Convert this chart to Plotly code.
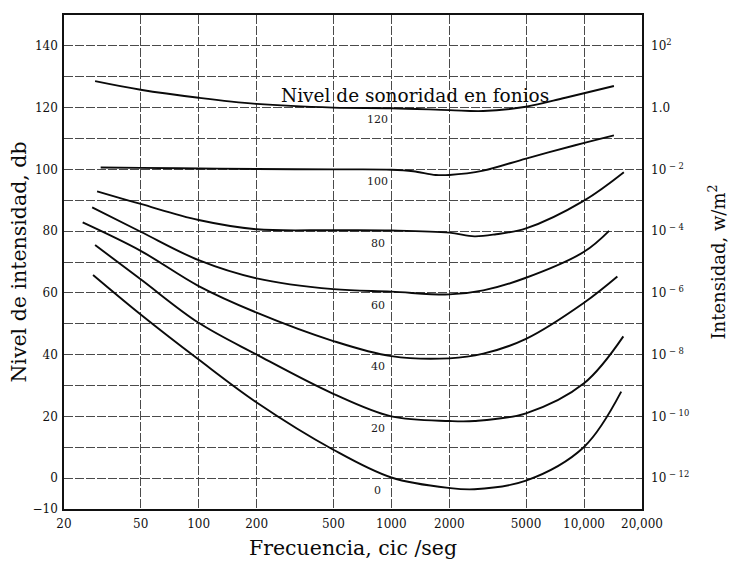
import numpy as np
import plotly.graph_objects as go

# Equal-loudness contours: frequency (Hz) vs intensity level (dB), one pair per loudness level
phon_levels = [120, 100, 80, 60, 40, 20, 0]

freq_120 = [29, 50, 100, 200, 500, 1000, 2000, 3000, 5000, 8000, 14300]
db_120 = [128.6, 125.8, 123.2, 121.2, 120.0, 119.8, 119.2, 118.9, 120.3, 123.2, 127.0]

freq_100 = [31, 50, 100, 200, 500, 1000, 1300, 1700, 2000, 3000, 5000, 9000, 14300]
db_100 = [100.6, 100.5, 100.3, 100.1, 100.0, 99.9, 99.4, 98.2, 98.2, 99.6, 103.5, 107.8, 111.0]

freq_80 = [29.7, 50, 100, 200, 500, 1000, 2000, 2700, 3500, 5000, 10000, 16100]
db_80 = [92.9, 88.8, 83.6, 80.6, 80.3, 80.2, 79.5, 78.3, 79.0, 80.9, 89.9, 99.1]

freq_60 = [28, 50, 100, 200, 500, 1000, 2000, 3000, 5000, 10000, 13500]
db_60 = [87.7, 79.8, 70.6, 64.7, 61.2, 60.4, 59.5, 60.8, 64.9, 73.3, 80.1]

freq_40 = [25, 50, 100, 200, 500, 1000, 2000, 3000, 5000, 10000, 14900]
db_40 = [82.8, 73.6, 62.2, 53.6, 44.4, 39.5, 38.8, 40.3, 45.1, 56.8, 65.3]

freq_20 = [29, 50, 100, 200, 500, 1000, 2000, 2700, 5000, 10000, 16000]
db_20 = [75.5, 64.4, 50.3, 40.0, 27.3, 20.0, 18.5, 18.5, 21.0, 30.7, 45.9]

freq_0 = [28.3, 50, 100, 200, 500, 1000, 2000, 2700, 5000, 10000, 15600]
db_0 = [65.8, 53.0, 38.4, 24.5, 9.2, 0.2, -3.2, -3.6, -0.8, 10.1, 28.0]

curves = [
    (freq_120, db_120), (freq_100, db_100), (freq_80, db_80), (freq_60, db_60),
    (freq_40, db_40), (freq_20, db_20), (freq_0, db_0),
]

# Axis ticks
freq_ticks = [20, 50, 100, 200, 500, 1000, 2000, 5000, 10000, 20000]
freq_tick_text = ["20", "50", "100", "200", "500", "1000", "2000", "5000", "10,000", "20,000"]
db_ticks = [-10, 0, 20, 40, 60, 80, 100, 120, 140]
db_tick_text = ["\u221210", "0", "20", "40", "60", "80", "100", "120", "140"]
db_minor = [10, 30, 50, 70, 90, 110, 130]
intensity_ticks = [0, 20, 40, 60, 80, 100, 120, 140]
intensity_text = ["10<sup> \u2212 12</sup>", "10<sup> \u2212 10</sup>", "10<sup> \u2212 8</sup>",
                  "10<sup> \u2212 6</sup>", "10<sup> \u2212 4</sup>", "10<sup> \u2212 2</sup>",
                  "1.0", "10<sup>2</sup>"]

label_freq = 850
label_drop = 4

SERIF = "DejaVu Serif"
GRID = "#4a4a4a"
DASH = "9px,2px"

fig = go.Figure()
for (f, d) in curves:
    fig.add_trace(go.Scatter(
        x=f, y=d, mode="lines",
        line=dict(color="#0a0a0a", width=1.9, shape="spline", smoothing=1.0),
        showlegend=False, hoverinfo="skip",
    ))

# carrier trace for the right-hand intensity axis
fig.add_trace(go.Scatter(x=[None], y=[None], yaxis="y2", showlegend=False, hoverinfo="skip"))

for p in phon_levels:
    fig.add_annotation(
        x=np.log10(label_freq), y=p - label_drop, text=str(p), showarrow=False,
        font=dict(family=SERIF, size=11, color="#1a1a1a"), xanchor="center", yanchor="middle",
    )

fig.add_annotation(
    x=np.log10(1321), y=124.0, text="Nivel de sonoridad en fonios", showarrow=False,
    font=dict(family=SERIF, size=18.5, color="#0a0a0a"), xanchor="center", yanchor="middle",
)

fig.update_layout(
    width=729, height=565,
    margin=dict(l=64, r=87, t=15, b=56),
    paper_bgcolor="white", plot_bgcolor="white",
    font=dict(family=SERIF, color="#111"),
    xaxis=dict(
        type="log", range=[np.log10(20), np.log10(20000)], automargin=False,
        tickmode="array", tickvals=freq_ticks, ticktext=freq_tick_text,
        tickfont=dict(family=SERIF, size=12, color="#111"), ticklabelstandoff=3,
        showgrid=True, gridcolor=GRID, gridwidth=1, griddash=DASH,
        showline=True, linecolor="#111", linewidth=1.5, mirror=True,
        ticks="", zeroline=False,
        title=dict(text="Frecuencia, cic /seg", font=dict(family=SERIF, size=20.5, color="#0a0a0a"), standoff=10),
    ),
    yaxis=dict(
        range=[-10, 150], automargin=False,
        tickmode="array", tickvals=db_ticks, ticktext=db_tick_text,
        tickfont=dict(family=SERIF, size=12, color="#111"), ticklabelstandoff=2,
        showgrid=True, gridcolor=GRID, gridwidth=1, griddash=DASH,
        minor=dict(tickvals=db_minor, showgrid=True, gridcolor=GRID, gridwidth=1, griddash=DASH),
        showline=True, linecolor="#111", linewidth=1.5, mirror=True,
        ticks="", zeroline=False,
        title=dict(text="Nivel de intensidad, db", font=dict(family=SERIF, size=20.5, color="#0a0a0a"), standoff=0),
    ),
    yaxis2=dict(
        overlaying="y", side="right", matches="y", range=[-10, 150], automargin=False,
        tickmode="array", tickvals=intensity_ticks, ticktext=intensity_text,
        tickfont=dict(family=SERIF, size=12, color="#111"), ticklabelstandoff=8,
        showgrid=False, zeroline=False, ticks="", showline=False,
        title=dict(text="Intensidad, w/m<sup>2</sup>", font=dict(family=SERIF, size=18, color="#0a0a0a"), standoff=28),
    ),
)

fig.write_html("out.html")
